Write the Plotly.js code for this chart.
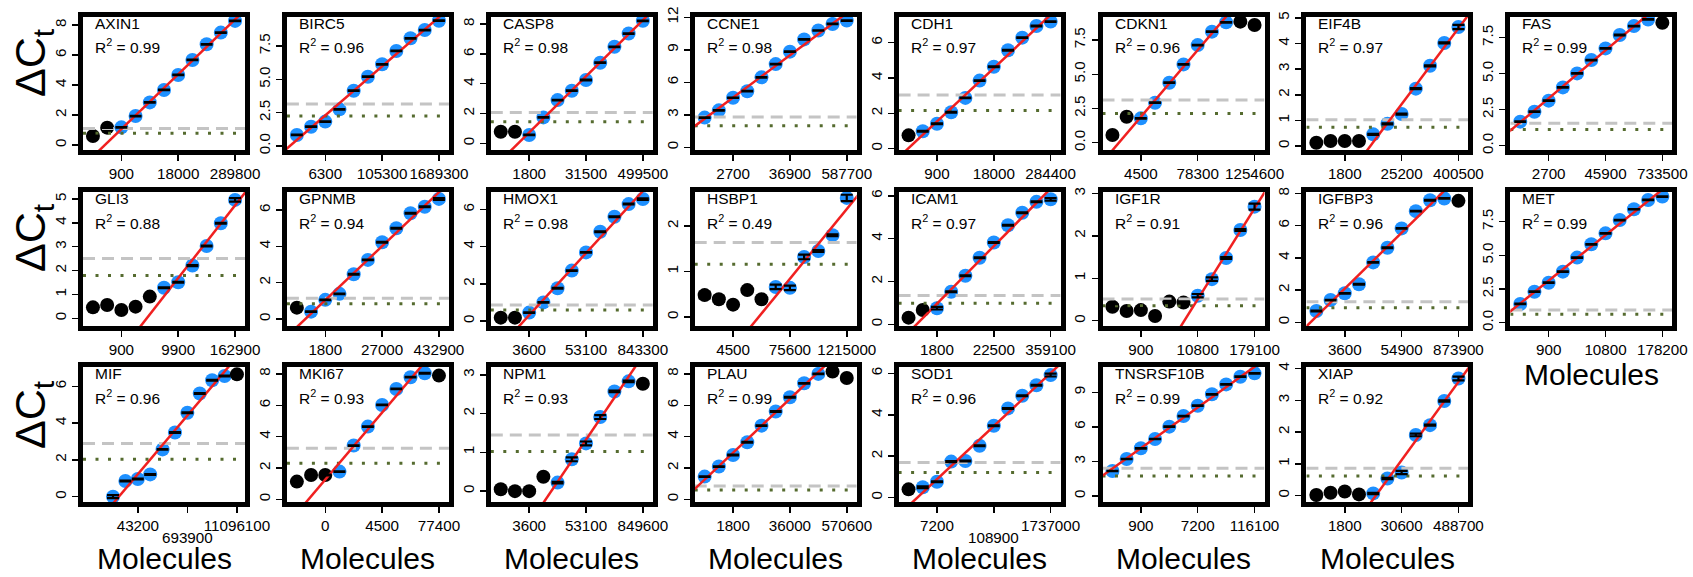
<!DOCTYPE html>
<html><head><meta charset="utf-8">
<script src="https://cdn.plot.ly/plotly-3.0.1.min.js"></script>
<style>body{margin:0;background:#fff}#chart{width:1693px;height:577px}</style>
</head><body><div id="chart"></div>
<script>
// ---------------- DATA ----------------
const genes = ['AXIN1','BIRC5','CASP8','CCNE1','CDH1','CDKN1','EIF4B','FAS',
               'GLI3','GPNMB','HMOX1','HSBP1','ICAM1','IGF1R','IGFBP3','MET',
               'MIF','MKI67','NPM1','PLAU','SOD1','TNSRSF10B','XIAP'];
const r2Text = ['0.99','0.96','0.98','0.98','0.97','0.96','0.97','0.99',
                '0.88','0.94','0.98','0.49','0.97','0.91','0.96','0.99',
                '0.96','0.93','0.93','0.99','0.96','0.99','0.92'];
// dilution step index (equal log2 steps)
const dilutionStep = [1,2,3,4,5,6,7,8,9,10,11];
// molecule tick labels (at steps 3, 7, 11)
const tickSteps = [3,7,11];
const moleculeTicks = [
  ['900','18000','289800'], ['6300','105300','1689300'], ['1800','31500','499500'], ['2700','36900','587700'],
  ['900','18000','284400'], ['4500','78300','1254600'], ['1800','25200','400500'], ['2700','45900','733500'],
  ['900','9900','162900'], ['1800','27000','432900'], ['3600','53100','843300'], ['4500','75600','1215000'],
  ['1800','22500','359100'], ['900','10800','179100'], ['3600','54900','873900'], ['900','10800','178200'],
  ['43200','693900','11096100'], ['0','4500','77400'], ['3600','53100','849600'], ['1800','36000','570600'],
  ['7200','108900','1737000'], ['900','7200','116100'], ['1800','30600','488700']
];
// labels printed on a second line (gene -> tick position in moleculeTicks)
const secondLineTick = {MIF: 1, SOD1: 1};
// Delta Ct per dilution step
const dCt_AXIN1 = [0.60,1.16,1.18,1.93,2.84,3.67,4.67,5.67,6.71,7.49,8.27];
const dCt_BIRC5 = [0.83,1.45,1.83,2.75,4.15,5.20,6.13,7.13,8.08,8.70,9.40];
const dCt_CASP8 = [0.78,0.78,0.56,1.74,2.90,3.53,4.25,5.41,6.48,7.37,8.22];
const dCt_CCNE1 = [2.74,3.41,4.57,5.18,6.46,7.68,8.83,9.96,10.78,11.39,11.70];
const dCt_CDH1  = [0.75,0.98,1.41,2.06,2.87,3.85,4.63,5.57,6.28,6.94,7.19];
const dCt_CDKN1 = [0.56,1.90,1.78,2.92,4.38,5.72,7.13,8.11,8.79,8.84,8.60];
const dCt_EIF4B = [0.13,0.20,0.20,0.20,0.46,0.87,1.25,2.24,3.13,4.02,4.64];
const dCt_FAS   = [1.67,2.36,3.13,4.05,5.02,5.95,6.76,7.69,8.31,8.77,8.54];
const dCt_GLI3  = [0.46,0.56,0.35,0.49,0.91,1.28,1.51,2.21,3.03,3.98,4.96];
const dCt_GPNMB = [0.62,0.40,1.05,1.38,2.46,3.25,4.22,4.99,5.82,6.18,6.61];
const dCt_HMOX1 = [0.18,0.18,0.45,1.00,1.76,2.71,3.69,4.80,5.61,6.29,6.56];
const dCt_HSBP1 = [0.48,0.39,0.27,0.59,0.39,0.66,0.64,1.32,1.45,1.80,2.62];
const dCt_ICAM1 = [0.31,0.67,0.75,1.52,2.27,3.11,3.82,4.63,5.21,5.72,5.84];
const dCt_IGF1R = [0.33,0.23,0.25,0.11,0.45,0.43,0.59,0.98,1.48,2.14,2.69];
const dCt_IGFBP3= [0.70,1.38,1.80,2.36,3.72,4.63,5.83,6.90,7.58,7.69,7.54];
const dCt_MET   = [1.39,2.30,2.97,3.79,4.83,5.82,6.63,7.62,8.42,9.11,9.36];
const dCt_MIF   = [0.00,0.85,0.96,1.21,2.57,3.49,4.56,5.61,6.33,6.56,6.65];
const dCt_MKI67 = [1.13,1.55,1.55,1.77,3.43,4.64,6.02,7.04,7.79,8.04,7.89];
const dCt_NPM1  = [0.05,0.00,0.00,0.37,0.22,0.82,1.23,1.91,2.57,2.83,2.77];
const dCt_PLAU  = [1.45,2.09,2.83,3.64,4.70,5.60,6.51,7.40,8.00,8.15,7.74];
const dCt_SOD1  = [0.40,0.50,0.77,1.74,1.77,2.51,3.47,4.31,4.92,5.43,5.92];
const dCt_TNSRSF10B = [2.17,3.21,4.14,4.95,6.02,6.94,7.84,8.83,9.69,10.36,10.65];
const dCt_XIAP  = [0.02,0.09,0.13,0.04,0.07,0.54,0.73,1.91,2.22,2.98,3.69];
// standard deviations (default small)
const sdDefault = 0.02;
const sd_EIF4B = [0.02,0.02,0.02,0.02,0.02,0.02,0.02,0.02,0.02,0.02,0.08];
const sd_GLI3  = [0.02,0.02,0.02,0.02,0.02,0.02,0.02,0.02,0.02,0.02,0.07];
const sd_GPNMB = [0.02,0.02,0.02,0.02,0.02,0.02,0.02,0.02,0.02,0.02,0.05];
const sd_HMOX1 = [0.02,0.02,0.02,0.02,0.02,0.02,0.02,0.02,0.02,0.02,0.04];
const sd_HSBP1 = [0.07,0.06,0.02,0.02,0.02,0.05,0.05,0.05,0.02,0.02,0.07];
const sd_ICAM1 = [0.02,0.02,0.06,0.02,0.02,0.02,0.02,0.02,0.02,0.02,0.06];
const sd_IGF1R = [0.06,0.05,0.05,0.02,0.02,0.02,0.04,0.04,0.02,0.02,0.07];
const sd_MIF   = [0.08,0.02,0.02,0.02,0.02,0.02,0.02,0.02,0.02,0.02,0.02];
const sd_NPM1  = [0.06,0.05,0.05,0.02,0.02,0.05,0.05,0.05,0.02,0.02,0.07];
const sd_SOD1  = [0.02,0.04,0.02,0.02,0.02,0.02,0.02,0.02,0.02,0.02,0.07];
const sd_XIAP  = [0.02,0.02,0.02,0.02,0.02,0.02,0.05,0.04,0.02,0.02,0.06];
// points used in the linear fit (first..last step)
const fitFirst = [3,1,3,1,2,3,5,1, 6,2,3,6,3,7,1,1, 1,4,5,1,2,1,5];
const fitLast  = [11,11,11,11,11,9,11,10, 11,11,11,11,11,11,10,11, 10,10,10,9,11,11,11];
// threshold lines
const thrDashed = [1.11,3.15,2.06,2.80,3.04,3.12,1.03,1.55, 2.51,1.14,0.86,1.64,1.34,0.51,1.28,0.94, 2.89,3.26,1.45,0.85,1.70,2.40,0.86];
const thrDotted = [0.78,2.25,1.45,2.00,2.16,2.14,0.74,1.13, 1.79,0.84,0.59,1.16,0.98,0.35,0.91,0.62, 2.03,2.30,1.02,0.60,1.22,1.74,0.62];

const dCtTable = {AXIN1:dCt_AXIN1,BIRC5:dCt_BIRC5,CASP8:dCt_CASP8,CCNE1:dCt_CCNE1,CDH1:dCt_CDH1,CDKN1:dCt_CDKN1,
  EIF4B:dCt_EIF4B,FAS:dCt_FAS,GLI3:dCt_GLI3,GPNMB:dCt_GPNMB,HMOX1:dCt_HMOX1,HSBP1:dCt_HSBP1,ICAM1:dCt_ICAM1,
  IGF1R:dCt_IGF1R,IGFBP3:dCt_IGFBP3,MET:dCt_MET,MIF:dCt_MIF,MKI67:dCt_MKI67,NPM1:dCt_NPM1,PLAU:dCt_PLAU,
  SOD1:dCt_SOD1,TNSRSF10B:dCt_TNSRSF10B,XIAP:dCt_XIAP};
const sdTable = {EIF4B:sd_EIF4B,GLI3:sd_GLI3,GPNMB:sd_GPNMB,HMOX1:sd_HMOX1,HSBP1:sd_HSBP1,ICAM1:sd_ICAM1,
  IGF1R:sd_IGF1R,MIF:sd_MIF,NPM1:sd_NPM1,SOD1:sd_SOD1,XIAP:sd_XIAP};

// ---------------- AXIS CONFIG ----------------
const yAxisCfg = {
  AXIN1:[-0.33,8.53,2], BIRC5:[-0.30,9.68,2.5], CASP8:[-0.45,8.48,2], CCNE1:[-0.25,12.03,3],
  CDH1:[-0.08,7.45,2], CDKN1:[-0.53,9.18,2.5], EIF4B:[-0.15,5.03,1], FAS:[-0.30,8.94,2.5],
  GLI3:[-0.32,5.29,1], GPNMB:[-0.39,6.99,2], HMOX1:[-0.27,6.94,2], HSBP1:[-0.20,2.75,1],
  ICAM1:[-0.08,6.18,2], IGF1R:[-0.125,3.035,1], IGFBP3:[-0.23,8.09,2], MET:[-0.245,9.70,2.5],
  MIF:[-0.29,7.05,2], MKI67:[-0.17,8.44,2], NPM1:[-0.28,3.20,1], PLAU:[-0.17,8.44,2],
  SOD1:[-0.21,6.31,2], TNSRSF10B:[-0.52,11.20,3], XIAP:[-0.20,4.05,1]
};
const xRangeDefault = [0.3, 11.7];
const xRangeSpecial = {MIF:[-1.42, 11.65]};

// ---------------- LAYOUT ----------------
const W = 1693, H = 577;
const FONT = 'Liberation Sans, Arial, Helvetica, sans-serif';
const TICKSIZE = 15.2;
const innerLeft = c => 83 + c * 203.9;
const innerW = 162;
const rowTop = [17, 192, 367], rowBot = [150, 326, 502];

function linFit(xs, ys) {
  const n = xs.length;
  const mx = xs.reduce((a,b)=>a+b,0)/n, my = ys.reduce((a,b)=>a+b,0)/n;
  let sxy=0, sxx=0;
  for (let i=0;i<n;i++){ sxy+=(xs[i]-mx)*(ys[i]-my); sxx+=(xs[i]-mx)*(xs[i]-mx); }
  const b = sxy/sxx; return {b, a: my - b*mx};
}

const traces = [];
const layout = {
  width: W, height: H, margin:{l:0,r:0,t:0,b:0}, showlegend:false,
  paper_bgcolor:'#fff', plot_bgcolor:'#fff', font:{family:FONT, color:'#000'},
  annotations: []
};

genes.forEach((g, k) => {
  const row = Math.floor(k/8), col = k % 8;
  const xa = 'x' + (k ? k+1 : ''), ya = 'y' + (k ? k+1 : '');
  const xr = xRangeSpecial[g] || xRangeDefault;
  const yc = yAxisCfg[g];
  const L = innerLeft(col), T = rowTop[row], B = rowBot[row];
  const innerH = B - T;
  const tt = moleculeTicks[k].slice();
  const lower = secondLineTick[g];
  if (lower !== undefined) {
    layout.annotations.push({xref: xa, yref:'paper', x: tickSteps[lower], y: 1 - (B + 35.5)/H,
      xanchor:'center', yanchor:'middle', showarrow:false, text: tt[lower],
      font:{size:TICKSIZE, family:FONT, color:'#000'}});
    tt[lower] = '';
  }
  layout['xaxis' + (k ? k+1 : '')] = {
    domain:[L/W, (L+innerW)/W], anchor: ya, range: xr, fixedrange:true,
    tickvals: tickSteps, ticktext: tt, tickmode:'array', tickangle:0,
    ticks:'outside', ticklen:6, tickwidth:1.5, tickcolor:'#000',
    showline:true, linewidth:5, linecolor:'#000', mirror:true,
    showgrid:false, zeroline:false, tickfont:{size:TICKSIZE, family:FONT, color:'#000'}
  };
  layout['yaxis' + (k ? k+1 : '')] = {
    domain:[1 - B/H, 1 - T/H], anchor: xa, range:[yc[0], yc[1]], fixedrange:true,
    tick0:0, dtick: yc[2], tickformat: (yc[2] === 2.5 ? '.1f' : ''), tickangle:-90,
    ticks:'outside', ticklen:6, tickwidth:1.5, tickcolor:'#000',
    showline:true, linewidth:5, linecolor:'#000', mirror:true,
    showgrid:false, zeroline:false, tickfont:{size:TICKSIZE, family:FONT, color:'#000'}
  };
  const ys = dCtTable[g];
  const sd = sdTable[g] || ys.map(()=>sdDefault);
  const f0 = fitFirst[k], f1 = fitLast[k];
  const colors = dilutionStep.map(s => (s >= f0 && s <= f1) ? '#1E90FF' : '#000000');
  traces.push({type:'scatter', mode:'markers', x: dilutionStep, y: ys, xaxis: xa, yaxis: ya,
    marker:{size:14, color: colors, line:{width:0}}, hoverinfo:'skip'});
  traces.push({type:'scatter', mode:'lines', x:[xr[0], xr[1]], y:[thrDashed[k], thrDashed[k]], xaxis:xa, yaxis:ya,
    line:{color:'#c4c4c4', width:3, dash:'12px,7px'}, hoverinfo:'skip'});
  traces.push({type:'scatter', mode:'lines', x:[xr[0], xr[1]], y:[thrDotted[k], thrDotted[k]], xaxis:xa, yaxis:ya,
    line:{color:'#556B2F', width:3, dash:'3px,9.5px'}, hoverinfo:'skip'});
  const fx = dilutionStep.slice(f0-1, f1), fy = ys.slice(f0-1, f1);
  const fit = linFit(fx, fy);
  traces.push({type:'scatter', mode:'lines', x:[xr[0]-1, xr[1]+1], y:[fit.a + fit.b*(xr[0]-1), fit.a + fit.b*(xr[1]+1)],
    xaxis:xa, yaxis:ya, line:{color:'#f02020', width:2.5}, hoverinfo:'skip'});
  traces.push({type:'scatter', mode:'markers', x: dilutionStep, y: ys, xaxis:xa, yaxis:ya,
    marker:{size:1, opacity:0}, error_y:{type:'data', array: sd, visible:true, color:'#000', thickness:2.2, width:6},
    hoverinfo:'skip'});
  layout.annotations.push({xref: xa+' domain', yref: ya+' domain', x: 10/innerW, y: 1 - 6.5/innerH,
    xanchor:'left', yanchor:'middle', showarrow:false, text: g, font:{size:15.5, family:FONT, color:'#000'}});
  layout.annotations.push({xref: xa+' domain', yref: ya+' domain', x: 10/innerW, y: 1 - 29.5/innerH,
    xanchor:'left', yanchor:'middle', showarrow:false, text: 'R<sup>2</sup> = ' + r2Text[k],
    font:{size:15.5, family:FONT, color:'#000'}});
});

[63, 238, 415].forEach(cy => {
  layout.annotations.push({xref:'paper', yref:'paper', x: 33/W, y: 1 - cy/H, xanchor:'center', yanchor:'middle',
    showarrow:false, textangle:-90, text:'ΔC<sub>t</sub>', font:{size:43, family:FONT, color:'#000'}});
});
for (let c = 0; c < 7; c++) {
  layout.annotations.push({xref:'paper', yref:'paper', x: (innerLeft(c)+innerW/2)/W, y: 0,
    xanchor:'center', yanchor:'bottom', showarrow:false, text:'Molecules', font:{size:30, family:FONT, color:'#000'}});
}
layout.annotations.push({xref:'paper', yref:'paper', x: (innerLeft(7)+innerW/2)/W, y: 1 - 374/H,
  xanchor:'center', yanchor:'middle', showarrow:false, text:'Molecules', font:{size:30, family:FONT, color:'#000'}});

Plotly.newPlot('chart', traces, layout, {staticPlot:true, displayModeBar:false});
</script></body></html>
